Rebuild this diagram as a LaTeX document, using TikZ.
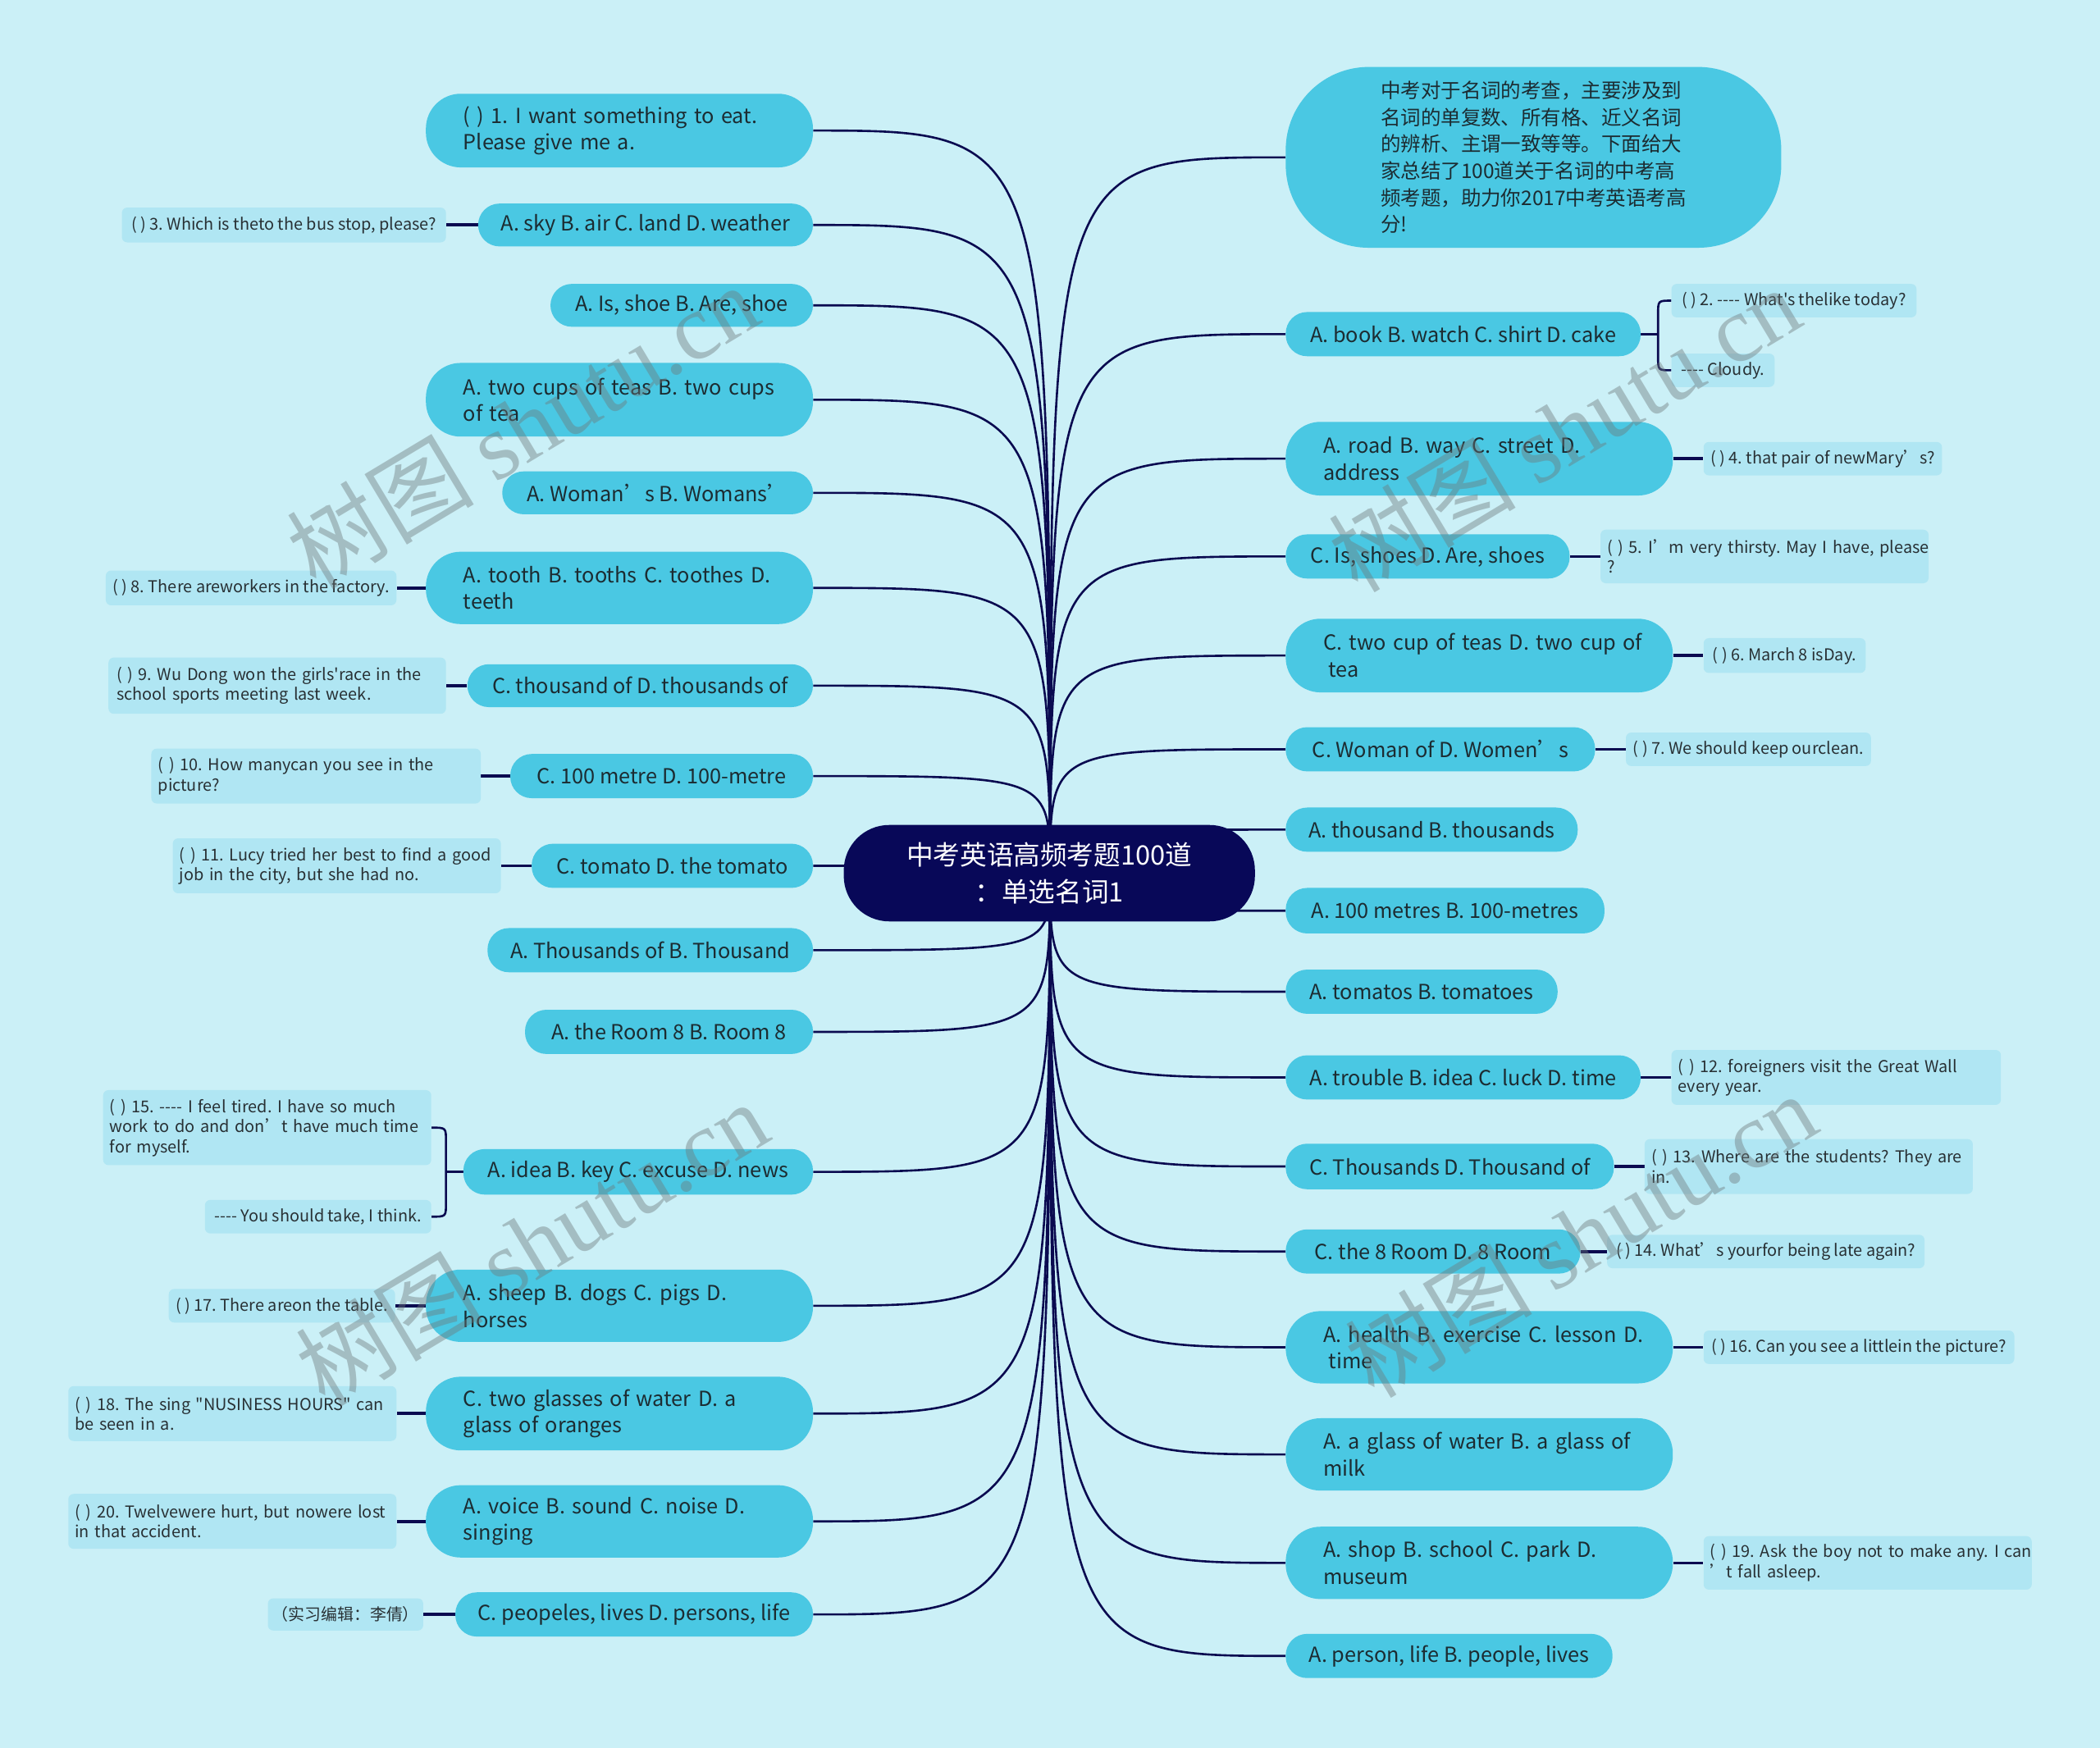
\documentclass[tikz,border=0pt]{standalone}
\usepackage{fontspec}
\newfontfamily\cjk{Noto Sans CJK SC}
\newfontfamily\wmfont{Liberation Serif}
\usetikzlibrary{backgrounds,calc}
\newcommand\keepline[1]{\mbox{#1}}
\definecolor{bgc}{RGB}{203,240,247}
\definecolor{nodec}{RGB}{74,200,227}
\definecolor{labc}{RGB}{176,230,243}
\definecolor{rootc}{RGB}{8,8,88}
\definecolor{linec}{RGB}{10,10,80}
\definecolor{txtc}{RGB}{28,44,50}
\definecolor{labtxt}{RGB}{40,48,52}
\definecolor{wmc}{RGB}{110,120,122}
\tikzset{
  sz/.style 2 args={minimum width=#1pt, minimum height=#2pt},
  tw/.style={text width=#1pt},
  mainbox/.style={fill=nodec, rounded corners=16pt, inner sep=0pt, text=txtc, font=\cjk\fontsize{15.5}{20}\selectfont, align=left},
  tallbox/.style={mainbox, rounded corners=26pt, text width=233pt},
  labbox/.style={fill=labc, rounded corners=4pt, inner sep=0pt, text=labtxt, font=\cjk\fontsize{12.2}{15}\selectfont, align=left},
  link/.style={draw=linec, line width=1.6pt},
  stub/.style={draw=linec, line width=2.2pt},
  wm/.style={text=wmc, opacity=0.42, rotate=31, font=\cjk\fontsize{70}{70}\selectfont},
}
\begin{document}
\frenchspacing
\begin{tikzpicture}[x=1pt,y=-1pt]
\useasboundingbox (0,0) rectangle (1568,1305);
\begin{scope}[on background layer]
\fill[bgc] (0,0) rectangle (1568,1305);
\end{scope}
\coordinate (hub) at (784,652);
% root
\node[fill=rootc, rounded corners=34pt, sz={307}{72}, inner sep=0pt, text=white, font=\cjk\fontsize{20}{27}\selectfont, align=center] (root) at (783.5,652) {中考英语高频考题100道\\：单选名词1};
% left nodes
\node[tallbox, sz={289}{55}] (L1) at (462.5,97.5) {\keepline{( ) 1. I want something to eat.}\\\keepline{Please give me a.}};
\node[mainbox, sz={250}{32}] (L2) at (482,168) {A. sky B. air C. land D. weather};
\node[labbox, sz={242}{26}] (L2a) at (212,168) {( ) 3. Which is theto the bus stop, please?};
\node[mainbox, sz={196}{32}] (L3) at (509,228) {A. Is, shoe B. Are, shoe};
\node[tallbox, sz={289}{55}] (L4) at (462.5,298.5) {\keepline{A. two cups of teas B. two cups}\\\keepline{of tea}};
\node[mainbox, sz={232}{32}] (L5) at (491,368) {A. Woman’s B. Womans’};
\node[tallbox, sz={289}{54}] (L6) at (462.5,439) {\keepline{A. tooth B. tooths C. toothes D.}\\\keepline{teeth}};
\node[labbox, sz={217}{26}] (L6a) at (187.5,439) {( ) 8. There areworkers in the factory.};
\node[mainbox, sz={258}{32}] (L7) at (478,512) {C. thousand of D. thousands of};
\node[labbox, sz={252}{42}, tw=240] (L7a) at (207,512) {\keepline{( ) 9. Wu Dong won the girls'race in the}\\\keepline{school sports meeting last week.}};
\node[mainbox, sz={226}{33}] (L8) at (494,579.5) {C. 100 metre D. 100-metre};
\node[labbox, sz={246}{41}, tw=236] (L8a) at (236,579.5) {\keepline{( ) 10. How manycan you see in the}\\\keepline{picture?}};
\node[mainbox, sz={210}{33}] (L9) at (502,646.5) {C. tomato D. the tomato};
\node[labbox, sz={245}{41}, tw=235] (L9a) at (251.5,646.5) {\keepline{( ) 11. Lucy tried her best to find a good}\\\keepline{job in the city, but she had no.}};
\node[mainbox, sz={243}{33}] (L10) at (485.5,709.5) {A. Thousands of B. Thousand};
\node[mainbox, sz={215}{33}] (L11) at (499.5,770.5) {A. the Room 8 B. Room 8};
\node[mainbox, sz={261}{34}] (L12) at (476.5,875) {A. idea B. key C. excuse D. news};
\node[labbox, sz={245}{56}, tw=235] (L12a) at (199.5,842) {\keepline{( ) 15. ---- I feel tired. I have so much}\\\keepline{work to do and don’t have much time}\\\keepline{for myself.}};
\node[labbox, sz={169}{25}] (L12b) at (237.5,908.5) {---- You should take, I think.};
\node[tallbox, sz={289}{54}] (L13) at (462.5,975) {\keepline{A. sheep B. dogs C. pigs D.}\\\keepline{horses}};
\node[labbox, sz={169}{25}] (L13a) at (210.5,975) {( ) 17. There areon the table.};
\node[tallbox, sz={289}{55}] (L14) at (462.5,1055.5) {\keepline{C. two glasses of water D. a}\\\keepline{glass of oranges}};
\node[labbox, sz={245}{41}, tw=235] (L14a) at (173.5,1055.5) {\keepline{( ) 18. The sing "NUSINESS HOURS" can}\\\keepline{be seen in a.}};
\node[tallbox, sz={289}{54}] (L15) at (462.5,1136) {\keepline{A. voice B. sound C. noise D.}\\\keepline{singing}};
\node[labbox, sz={245}{41}, tw=235] (L15a) at (173.5,1136) {\keepline{( ) 20. Twelvewere hurt, but nowere lost}\\\keepline{in that accident.}};
\node[mainbox, sz={267}{33}] (L16) at (473.5,1205.5) {C. peopeles, lives D. persons, life};
\node[labbox, sz={116}{24}] (L16a) at (258,1205.5) {（实习编辑：李倩）};
% right nodes
\node[mainbox, rounded corners=62pt, sz={370}{135}, font=\cjk\fontsize{15}{20}\selectfont] (R1) at (1145,117.5) {中考对于名词的考查，主要涉及到\\名词的单复数、所有格、近义名词\\的辨析、主谓一致等等。下面给大\\家总结了100道关于名词的中考高\\频考题，助力你2017中考英语考高\\分!};
\node[mainbox, sz={265}{33}] (R2) at (1092.5,249.5) {A. book B. watch C. shirt D. cake};
\node[labbox, sz={183}{25}] (R2a) at (1339.5,224.5) {( ) 2. ---- What's thelike today?};
\node[labbox, sz={77}{25}] (R2b) at (1286.5,276.5) {---- Cloudy.};
\node[tallbox, sz={289}{55}] (R3) at (1104.5,342.5) {\keepline{A. road B. way C. street D.}\\\keepline{address}};
\node[labbox, sz={178}{25}] (R3a) at (1361,342.5) {( ) 4. that pair of newMary’s?};
\node[mainbox, sz={212}{33}] (R4) at (1066,415.5) {C. Is, shoes D. Are, shoes};
\node[labbox, sz={245}{40}, tw=235] (R4a) at (1317.5,415.5) {\keepline{( ) 5. I’m very thirsty. May I have, please}\\\keepline{?}};
\node[tallbox, sz={289}{55}] (R5) at (1104.5,489.5) {\keepline{C. two cup of teas D. two cup of}\\\keepline{\hspace*{4pt}tea}};
\node[labbox, sz={121}{26}] (R5a) at (1332.5,489.5) {( ) 6. March 8 isDay.};
\node[mainbox, sz={231}{33}] (R6) at (1075.5,559.5) {C. Woman of D. Women’s};
\node[labbox, sz={183}{25}] (R6a) at (1305.5,559.5) {( ) 7. We should keep ourclean.};
\node[mainbox, sz={218}{33}] (R7) at (1069,619.5) {A. thousand B. thousands};
\node[mainbox, sz={238}{34}] (R8) at (1079,680) {A. 100 metres B. 100-metres};
\node[mainbox, sz={203}{33}] (R9) at (1061.5,740.5) {A. tomatos B. tomatoes};
\node[mainbox, sz={265}{33}] (R10) at (1092.5,804.5) {A. trouble B. idea C. luck D. time};
\node[labbox, sz={246}{41}, tw=236] (R10a) at (1371,804.5) {\keepline{( ) 12. foreigners visit the Great Wall}\\\keepline{every year.}};
\node[mainbox, sz={245}{34}] (R11) at (1082.5,871) {C. Thousands D. Thousand of};
\node[labbox, sz={245}{41}, tw=235] (R11a) at (1350.5,871) {\keepline{( ) 13. Where are the students? They are}\\\keepline{in.}};
\node[mainbox, sz={220}{33}] (R12) at (1070,934.5) {C. the 8 Room D. 8 Room};
\node[labbox, sz={237}{25}] (R12a) at (1318.5,934.5) {( ) 14. What’s yourfor being late again?};
\node[tallbox, sz={289}{54}] (R13) at (1104.5,1006) {\keepline{A. health B. exercise C. lesson D.}\\\keepline{\hspace*{4pt}time}};
\node[labbox, sz={232}{25}] (R13a) at (1388,1006) {( ) 16. Can you see a littlein the picture?};
\node[tallbox, sz={289}{54}] (R14) at (1104.5,1086) {\keepline{A. a glass of water B. a glass of}\\\keepline{milk}};
\node[tallbox, sz={289}{54}] (R15) at (1104.5,1167) {\keepline{A. shop B. school C. park D.}\\\keepline{museum}};
\node[labbox, sz={245}{40}, tw=235] (R15a) at (1394.5,1167) {\keepline{( ) 19. Ask the boy not to make any. I can}\\\keepline{’t fall asleep.}};
\node[mainbox, sz={244}{33}] (R16) at (1082,1236.5) {A. person, life B. people, lives};
% connectors
\coordinate (L12j) at (333,875);
\coordinate (R2j) at (1238,249.5);
\begin{scope}[on background layer]
\foreach \n in {L1,L2,L3,L4,L5,L6,L7,L8,L9,L10,L11,L12,L13,L14,L15,L16}
  \draw[link] (hub) .. controls (hub |- \n.east) .. (\n.east);
\foreach \n in {R1,R2,R3,R4,R5,R6,R7,R8,R9,R10,R11,R12,R13,R14,R15,R16}
  \draw[link] (hub) .. controls (hub |- \n.west) .. (\n.west);
\foreach \a/\b in {L2/L2a,L6/L6a,L7/L7a,L8/L8a,L9/L9a,L13/L13a,L14/L14a,L15/L15a,L16/L16a}
  \draw[stub] (\a.west) -- (\b.east);
\foreach \a/\b in {R3/R3a,R4/R4a,R5/R5a,R6/R6a,R10/R10a,R11/R11a,R12/R12a,R13/R13a,R15/R15a}
  \draw[stub] (\a.east) -- (\b.west);
\draw[stub] (L12.west) -- (L12j);
\draw[link] (L12a.east) .. controls (L12a.east -| L12j) .. ($(L12a.east -| L12j)+(0,10)$) -- ($(L12b.east -| L12j)+(0,-10)$) .. controls (L12b.east -| L12j) .. (L12b.east);
\draw[stub] (R2.east) -- (R2j);
\draw[link] (R2a.west) .. controls (R2a.west -| R2j) .. ($(R2a.west -| R2j)+(0,10)$) -- ($(R2b.west -| R2j)+(0,-10)$) .. controls (R2b.west -| R2j) .. (R2b.west);
\end{scope}
% watermarks
\node[wm] (wm1) at (390,318) {树图 {\wmfont shutu.cn}};
\node[wm] (wm2) at (1168,320) {树图 {\wmfont shutu.cn}};
\node[wm] (wm3) at (397,928) {树图 {\wmfont shutu.cn}};
\node[wm] (wm4) at (1180,922) {树图 {\wmfont shutu.cn}};
\end{tikzpicture}
\end{document}
